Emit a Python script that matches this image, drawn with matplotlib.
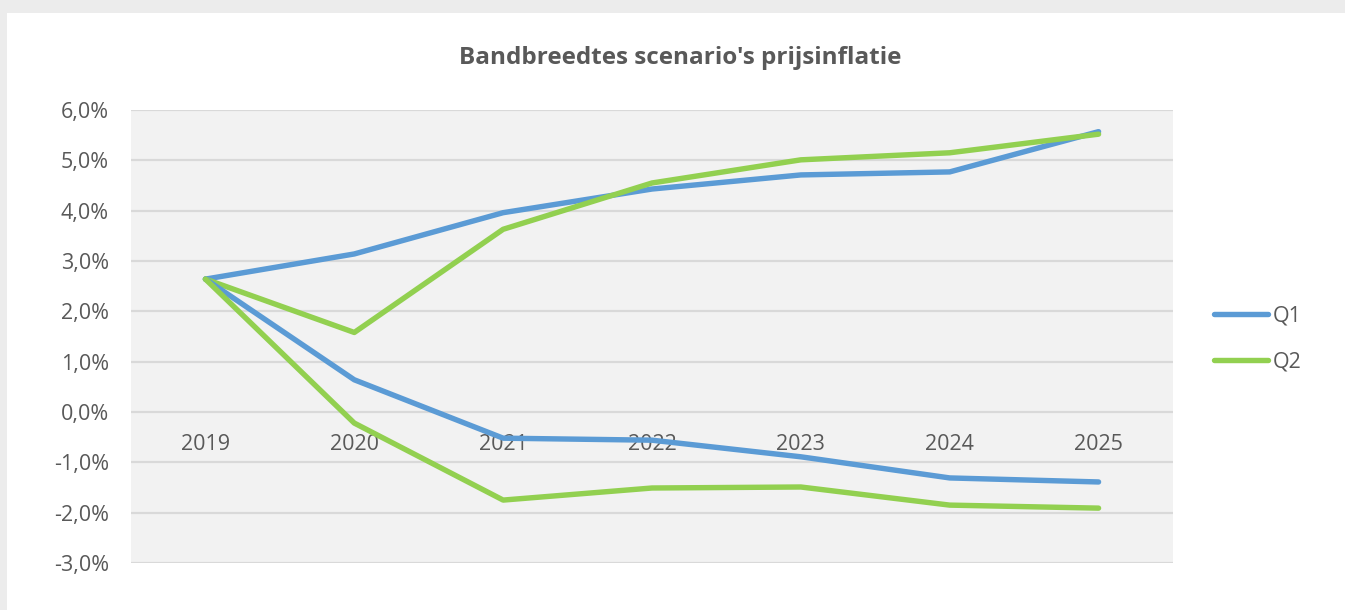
import matplotlib.pyplot as plt
from matplotlib.patches import Rectangle
from matplotlib.ticker import FuncFormatter

years = ['2019', '2020', '2021', '2022', '2023', '2024', '2025']
q1_upper = [2.64, 3.14, 3.96, 4.43, 4.71, 4.77, 5.57]
q1_lower = [2.64, 0.64, -0.52, -0.56, -0.89, -1.31, -1.39]
q2_upper = [2.64, 1.58, 3.63, 4.55, 5.01, 5.15, 5.52]
q2_lower = [2.64, -0.22, -1.75, -1.51, -1.49, -1.85, -1.91]

blue = '#5b9bd5'
green = '#92d050'
textcol = '#595959'

plt.rcParams['font.family'] = ['Open Sans', 'DejaVu Sans']

fig = plt.figure(figsize=(13.45, 6.10), dpi=100, facecolor='#ececec')
# white card behind the chart
fig.patches.append(Rectangle((7 / 1345, 0), 1.0, 597 / 610, transform=fig.transFigure,
                             facecolor='white', edgecolor='none', zorder=-5))

ax = fig.add_axes([131 / 1345, 47 / 610, 1042 / 1345, 453 / 610])
ax.set_zorder(2)
ax.set_facecolor('#f2f2f2')

x = range(len(years))
style = dict(lw=3.9, solid_capstyle='round', solid_joinstyle='round')
ax.plot(x, q1_upper, color=blue, label='Q1', **style)
ax.plot(x, q2_upper, color=green, label='Q2', **style)
ax.plot(x, q1_lower, color=blue, **style)
ax.plot(x, q2_lower, color=green, **style)

ax.set_xlim(-0.5, len(years) - 0.5)
ax.set_ylim(-3, 6)
ax.set_yticks(range(-3, 7))
ax.yaxis.set_major_formatter(FuncFormatter(lambda v, p: f'{v:.1f}%'.replace('.', ',')))
ax.grid(axis='y', color='#d9d9d9', lw=1.6)
ax.set_axisbelow(True)
for s in ax.spines.values():
    s.set_visible(False)
ax.spines['bottom'].set_position(('data', 0))
ax.set_xticks(list(x))
ax.set_xticklabels(years)
ax.tick_params(axis='x', length=0, pad=16, labelsize=15.5, labelcolor=textcol)
ax.tick_params(axis='y', length=0, pad=16, labelsize=15.5, labelcolor=textcol)

fig.text(0.506, 1 - 58 / 610, "Bandbreedtes scenario's prijsinflatie", ha='center', va='center',
         fontsize=17.5, fontweight='bold', color=textcol)

leg = fig.legend(loc='center left', bbox_to_anchor=(1195 / 1345, 1 - 339 / 610), frameon=False,
                 fontsize=15.5, handlelength=2.5, handletextpad=0.2, labelspacing=1.15)
for t in leg.get_texts():
    t.set_color(textcol)

plt.savefig('out.png', dpi=100, facecolor=fig.get_facecolor())
